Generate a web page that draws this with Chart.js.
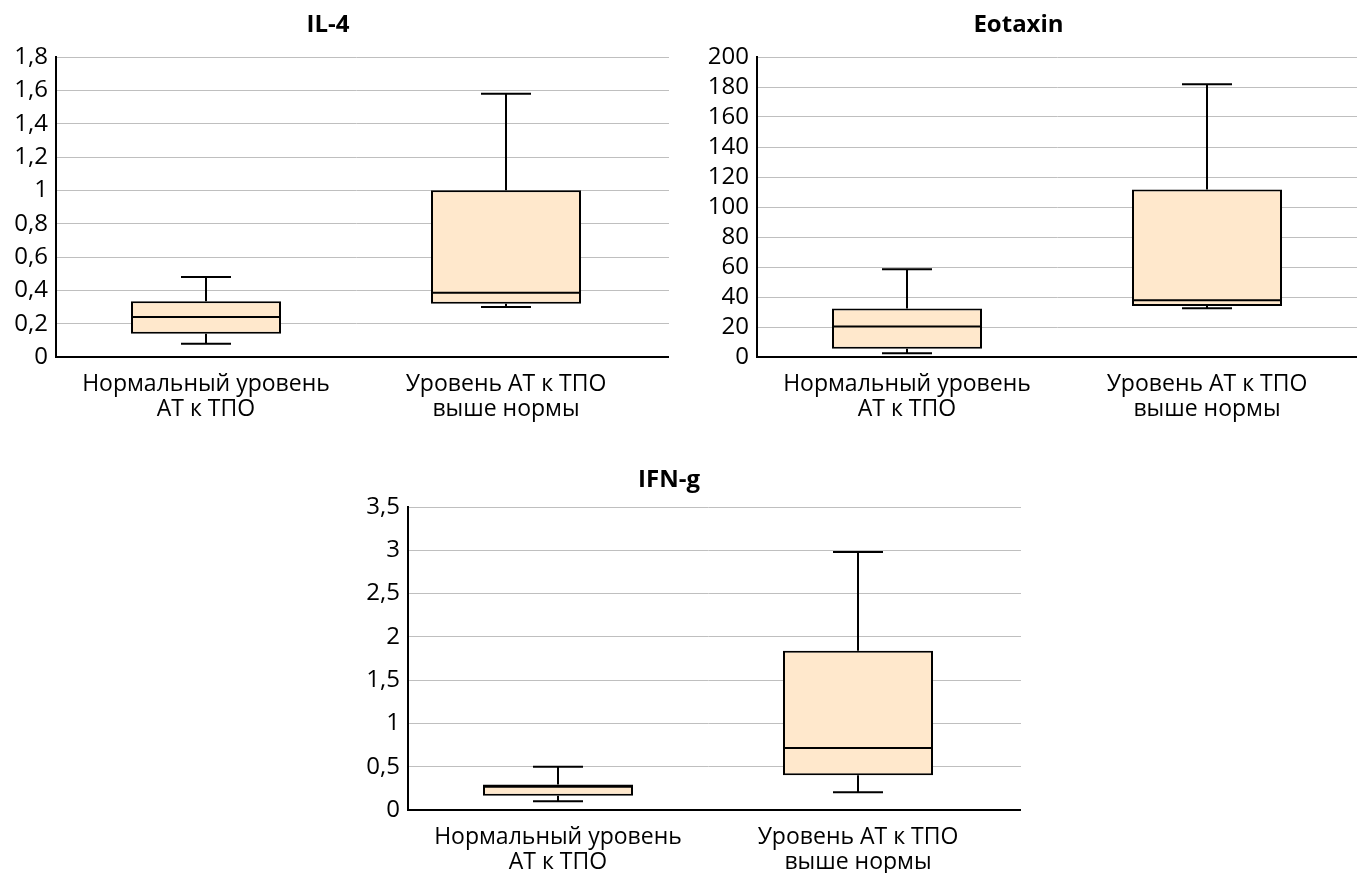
<!DOCTYPE html>
<html>
<head>
<meta charset="utf-8">
<script src="https://cdn.jsdelivr.net/npm/chart.js@4.4.0/dist/chart.umd.min.js"></script>
<style>
    html, body { margin: 0; padding: 0; background: #fff; overflow: hidden; width: 1357px; height: 873px; }
    canvas { position: absolute; }
</style>
</head>
<body>
<canvas id="il4" width="680" height="440" style="left:0;top:0"></canvas>
<canvas id="eotaxin" width="733" height="440" style="left:680px;top:0"></canvas>
<canvas id="ifng" width="738" height="423" style="left:330px;top:450px"></canvas>
<script>
// groups on the x axis
const groups = [['Нормальный уровень', 'АТ к ТПО'], ['Уровень АТ к ТПО', 'выше нормы']];

// IL-4
const il4_min = [0.08, 0.30];
const il4_q1 = [0.14, 0.32];
const il4_med = [0.24, 0.385];
const il4_q3 = [0.335, 1.0];
const il4_max = [0.48, 1.58];

// Eotaxin
const eot_min = [2.5, 32.5];
const eot_q1 = [5.5, 34];
const eot_med = [20.3, 37.8];
const eot_q3 = [32.3, 111.6];
const eot_max = [58.5, 181.8];

// IFN-g
const ifn_min = [0.10, 0.205];
const ifn_q1 = [0.165, 0.40];
const ifn_med = [0.27, 0.715];
const ifn_q3 = [0.295, 1.84];
const ifn_max = [0.50, 2.98];

const FONT = "'Open Sans', sans-serif";
const BOX_FILL = '#FFE8CC';
const GRID = '#bfbfbf';

function fmt(v) {
    return String(+v.toFixed(2)).replace('.', ',');
}

// whiskers, caps and median drawn from the chart scales
const boxExtras = {
    id: 'boxExtras',
    beforeDatasetsDraw(chart, args, opts) {
        // grid lines run a bit past the plot area on the right
        if (!opts.ext) return;
        const ctx = chart.ctx, y = chart.scales.y, area = chart.chartArea;
        ctx.save();
        for (const t of y.ticks) {
            const py = y.getPixelForValue(t.value);
            ctx.beginPath();
            let yy;
            if (t.value === 0) {
                ctx.strokeStyle = '#000';
                ctx.lineWidth = 2;
                yy = Math.round(py - 1) + 1;
            } else {
                ctx.strokeStyle = GRID;
                ctx.lineWidth = 1;
                yy = Math.round(py - 0.5) + 0.5;
            }
            ctx.moveTo(area.right - 1, yy);
            ctx.lineTo(area.right + opts.ext, yy);
            ctx.stroke();
        }
        ctx.restore();
    },
    afterDatasetsDraw(chart, args, opts) {
        const ctx = chart.ctx, y = chart.scales.y;
        const meta = chart.getDatasetMeta(0);
        ctx.save();
        ctx.strokeStyle = '#000';
        ctx.lineWidth = 2;
        meta.data.forEach(function (bar, i) {
            const cx = bar.x, half = bar.width / 2, cap = bar.width / 6;
            const yMin = y.getPixelForValue(opts.min[i]);
            const yMax = y.getPixelForValue(opts.max[i]);
            const yQ1 = y.getPixelForValue(opts.q1[i]);
            const yQ3 = y.getPixelForValue(opts.q3[i]);
            const yMed = y.getPixelForValue(opts.med[i]);
            ctx.beginPath();
            ctx.moveTo(cx, yQ3); ctx.lineTo(cx, yMax);
            ctx.moveTo(cx - cap, yMax); ctx.lineTo(cx + cap, yMax);
            ctx.moveTo(cx, yQ1); ctx.lineTo(cx, yMin);
            ctx.moveTo(cx - cap, yMin); ctx.lineTo(cx + cap, yMin);
            ctx.moveTo(cx - half, yMed); ctx.lineTo(cx + half, yMed);
            ctx.stroke();
        });
        ctx.restore();
    }
};

function draw_box_chart(id, title, stats, yMax, yStep, yWidth, xHeight, pad, titlePad, ext) {
    const boxes = [];
    for (let i = 0; i < groups.length; i++) {
        boxes.push([stats.q1[i], stats.q3[i]]);
    }
    const config = {
        type: 'bar',
        data: {
            labels: groups,
            datasets: [{
                data: boxes,
                backgroundColor: BOX_FILL,
                borderColor: '#000',
                borderWidth: 2,
                borderSkipped: false,
                barPercentage: 0.5,
                categoryPercentage: 1
            }]
        },
        options: {
            responsive: false,
            animation: false,
            layout: { padding: pad },
            plugins: {
                legend: { display: false },
                tooltip: { enabled: false },
                title: {
                    display: true,
                    text: title,
                    color: '#000',
                    font: { family: FONT, size: 24, weight: 'bold', lineHeight: 1.2 },
                    padding: titlePad
                },
                boxExtras: Object.assign({ ext: ext }, stats)
            },
            scales: {
                x: {
                    grid: { display: false, drawTicks: false },
                    border: { display: true, color: '#000', width: 2 },
                    ticks: { color: '#000', font: { family: FONT, size: 23, lineHeight: 1.1 }, padding: 15, maxRotation: 0 },
                    afterFit: function (scale) { scale.height = xHeight; }
                },
                y: {
                    min: 0,
                    max: yMax,
                    grid: { color: GRID, lineWidth: 1, drawTicks: false },
                    border: { display: true, color: '#000', width: 2 },
                    ticks: {
                        stepSize: yStep, autoSkip: false, color: '#000',
                        font: { family: FONT, size: 24, lineHeight: 1 }, padding: 8, callback: fmt
                    },
                    afterFit: function (scale) { scale.width = yWidth; }
                }
            }
        },
        plugins: [boxExtras]
    };
    return new Chart(document.getElementById(id), config);
}

draw_box_chart('il4', 'IL-4',
    { min: il4_min, q1: il4_q1, med: il4_med, q3: il4_q3, max: il4_max },
    1.8, 0.2, 56, 83, { left: 0, right: 24, top: 0, bottom: 0 }, { top: 10.6, bottom: 17.6 }, 13);

draw_box_chart('eotaxin', 'Eotaxin',
    { min: eot_min, q1: eot_q1, med: eot_med, q3: eot_q3, max: eot_max },
    200, 20, 77, 83, { left: 0, right: 56, top: 0, bottom: 0 }, { top: 10.6, bottom: 17.6 }, 0);

draw_box_chart('ifng', 'IFN-g',
    { min: ifn_min, q1: ifn_q1, med: ifn_med, q3: ifn_q3, max: ifn_max },
    3.5, 0.5, 78, 63, { left: 0, right: 60, top: 0, bottom: 0 }, { top: 15.6, bottom: 12.6 }, 13);
</script>
</body>
</html>
